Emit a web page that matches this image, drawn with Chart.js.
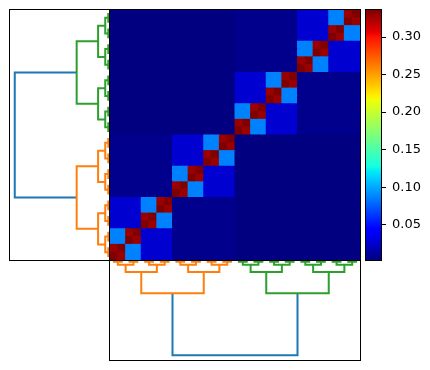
<!DOCTYPE html>
<html>
<head>
<meta charset="utf-8">
<script src="https://cdn.jsdelivr.net/npm/chart.js@4.4.1/dist/chart.umd.min.js"></script>
<style>
  html, body { margin: 0; padding: 0; background: #fff; overflow: hidden; }
  canvas { position: absolute; }
</style>
</head>
<body>
<canvas id="left-dendro" width="110" height="260" style="left:5px;top:5px"></canvas>
<canvas id="bottom-dendro" width="260" height="110" style="left:105px;top:255px"></canvas>
<canvas id="heatmap" width="260" height="260" style="left:105px;top:5px"></canvas>
<canvas id="colorbar" width="70" height="270" style="left:360px;top:0px"></canvas>
<script>
Chart.defaults.font.family = "'DejaVu Sans', sans-serif";
Chart.defaults.font.size = 13;
Chart.defaults.color = "#000";

// 32 leaves, nested in pairs, fours, eights, halves and the whole set
const leafCount = 32;
const groupSizes = [1, 2, 4, 8, 16, 32];
// heatmap value for two leaves, by the smallest group they share (same order as groupSizes)
const cellValues = [0.336, 0.328, 0.087, 0.026, 0.007, 0.003];
// dendrogram merge heights for groups of 2, 4, 8, 16, 32
const linkHeights = [0.018, 0.05, 0.125, 0.35, 1.0];
const colorbarTicks = [0.05, 0.10, 0.15, 0.20, 0.25, 0.30];

const clusterColors = ["#ff7f0e", "#2ca02c"];
const rootColor = "#1f77b4";

// matplotlib "jet"
const jetSegments = {
  r: [[0, 0], [0.35, 0], [0.66, 1], [0.89, 1], [1, 0.5]],
  g: [[0, 0], [0.125, 0], [0.375, 1], [0.64, 1], [0.91, 0], [1, 0]],
  b: [[0, 0.5], [0.11, 1], [0.34, 1], [0.65, 0], [1, 0]],
};
function interp(seg, t) {
  for (let i = 1; i < seg.length; i++) {
    if (t <= seg[i][0]) {
      const [x0, y0] = seg[i - 1], [x1, y1] = seg[i];
      return y0 + (y1 - y0) * (t - x0) / (x1 - x0);
    }
  }
  return seg[seg.length - 1][1];
}
function jet(t) {
  t = Math.max(0, Math.min(1, t));
  const c = ["r", "g", "b"].map(k => Math.round(255 * interp(jetSegments[k], t)));
  return "rgb(" + c.join(",") + ")";
}

const vmin = Math.min(...cellValues);
const vmax = Math.max(...cellValues);
const norm = v => (v - vmin) / (vmax - vmin);

function cellValue(i, j) {
  const k = groupSizes.findIndex(s => Math.floor(i / s) === Math.floor(j / s));
  return cellValues[k];
}

// black box round the plot area, like the axes spines
const frame = {
  id: "frame",
  afterDraw(chart) {
    const { ctx, chartArea: a } = chart;
    ctx.save();
    ctx.strokeStyle = "#000";
    ctx.lineWidth = 1;
    ctx.strokeRect(Math.round(a.left) - 0.5, Math.round(a.top) - 0.5,
      Math.round(a.right - a.left) + 1, Math.round(a.bottom - a.top) + 1);
    ctx.restore();
  },
};

const noLegend = { legend: { display: false }, tooltip: { enabled: false } };

// ---- heatmap: one floating-bar dataset per row ----
const leaves = Array.from({ length: leafCount }, (_, i) => i);
const heatDatasets = leaves.map(r => ({
  data: leaves.map(() => [r, r + 1]),
  backgroundColor: leaves.map(c => jet(norm(cellValue(r, c)))),
}));

new Chart(document.getElementById("heatmap"), {
  type: "bar",
  data: { labels: leaves, datasets: heatDatasets },
  options: {
    responsive: false,
    animation: false,
    layout: { padding: 5 },
    datasets: {
      bar: { grouped: false, barPercentage: 1, categoryPercentage: 1, borderWidth: 0, inflateAmount: 0.5 },
    },
    plugins: noLegend,
    scales: {
      x: { display: false },
      y: { display: false, min: 0, max: leafCount },
    },
  },
  plugins: [frame],
});

// ---- dendrograms ----
function buildLinks() {
  const links = [];
  let prev = leaves.map(i => ({ pos: 5 + 10 * i, h: 0, first: i }));
  linkHeights.forEach(h => {
    const next = [];
    for (let g = 0; g < prev.length; g += 2) {
      const a = prev[g], b = prev[g + 1];
      const color = prev.length === 2 ? rootColor : clusterColors[a.first < leafCount / 2 ? 0 : 1];
      links.push({ a, b, h, color });
      next.push({ pos: (a.pos + b.pos) / 2, h, first: a.first });
    }
    prev = next;
  });
  return links;
}
const links = buildLinks();
const maxH = Math.max(...linkHeights) * 1.05;

function linkDataset(l, pts) {
  return {
    data: pts,
    showLine: true,
    borderColor: l.color,
    borderWidth: 2,
    pointRadius: 0,
    tension: 0,
  };
}

new Chart(document.getElementById("left-dendro"), {
  type: "scatter",
  data: {
    datasets: links.map(l => linkDataset(l, [
      { x: l.a.h, y: l.a.pos }, { x: l.h, y: l.a.pos },
      { x: l.h, y: l.b.pos }, { x: l.b.h, y: l.b.pos },
    ])),
  },
  options: {
    responsive: false,
    animation: false,
    layout: { padding: 5 },
    plugins: noLegend,
    scales: {
      x: { type: "linear", display: false, min: 0, max: maxH, reverse: true },
      y: { type: "linear", display: false, min: 0, max: 10 * leafCount },
    },
  },
  plugins: [frame],
});

new Chart(document.getElementById("bottom-dendro"), {
  type: "scatter",
  data: {
    datasets: links.map(l => linkDataset(l, [
      { x: l.a.pos, y: l.a.h }, { x: l.a.pos, y: l.h },
      { x: l.b.pos, y: l.h }, { x: l.b.pos, y: l.b.h },
    ])),
  },
  options: {
    responsive: false,
    animation: false,
    layout: { padding: 5 },
    plugins: noLegend,
    scales: {
      x: { type: "linear", display: false, min: 0, max: 10 * leafCount },
      y: { type: "linear", display: false, min: 0, max: maxH, reverse: true },
    },
  },
  plugins: [frame],
});

// ---- colorbar ----
const jetStops = [0, 0.11, 0.125, 0.34, 0.35, 0.375, 0.64, 0.65, 0.66, 0.89, 0.91, 1];

new Chart(document.getElementById("colorbar"), {
  type: "bar",
  data: {
    labels: [""],
    datasets: [{
      data: [[vmin, vmax]],
      borderWidth: 0,
      barPercentage: 1,
      categoryPercentage: 1,
      backgroundColor: c => {
        const chart = c.chart;
        if (!chart.chartArea) return jet(0.5);
        const y = chart.scales.y;
        const g = chart.ctx.createLinearGradient(0, y.getPixelForValue(vmin), 0, y.getPixelForValue(vmax));
        jetStops.forEach(t => g.addColorStop(t, jet(t)));
        return g;
      },
    }],
  },
  options: {
    responsive: false,
    animation: false,
    layout: { padding: { left: 6, right: 0, top: 10, bottom: 10 } },
    plugins: noLegend,
    scales: {
      x: { display: false },
      y: {
        position: "right",
        min: vmin,
        max: vmax,
        afterFit: s => { s.width = 49; s.paddingTop = 0; s.paddingBottom = 0; },
        afterBuildTicks: s => { s.ticks = colorbarTicks.map(v => ({ value: v })); },
        ticks: { callback: v => v.toFixed(2), padding: 6, color: "#000" },
        grid: { drawOnChartArea: false, drawTicks: true, tickLength: 5, color: "#000", tickWidth: 1 },
        border: { display: true, color: "#000" },
      },
    },
  },
  plugins: [frame],
});
</script>
</body>
</html>
